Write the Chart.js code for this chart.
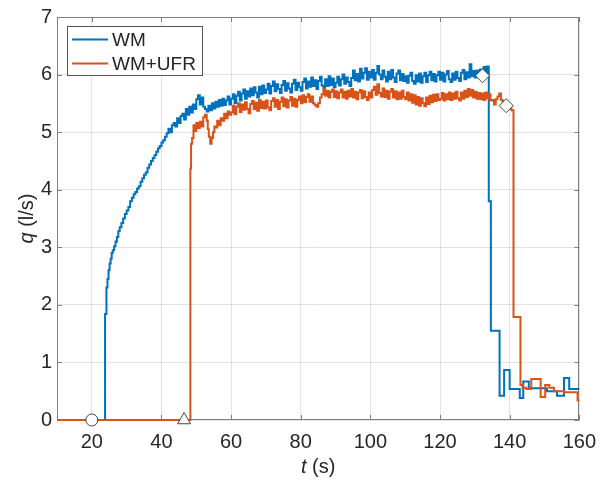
<!DOCTYPE html>
<html><head><meta charset="utf-8">
<script src="https://cdn.jsdelivr.net/npm/chart.js@4.4.1/dist/chart.umd.min.js"></script>
<style>html,body{margin:0;padding:0;background:#fff;}canvas{display:block;}</style>
</head><body>
<canvas id="c" width="606" height="484"></canvas>
<script>
const seriesNames = ['WM', 'WM+UFR'];
const xTicks = [20, 40, 60, 80, 100, 120, 140, 160];
const yTicks = [0, 1, 2, 3, 4, 5, 6, 7];
const xTitle = ['t', ' (s)'];
const yTitle = ['q', ' (l/s)'];

// WM samples [t (s), q (l/s)]
const wmSamples = [
[10,0],[23.8,1.84],[24.2,2.3],[24.5,2.45],[24.8,2.6],[25.1,2.72],[25.4,2.8],[25.7,2.9],[26,2.95],[26.4,3.02],[26.8,3.1],[27.2,3.18],[27.6,3.28],[28,3.35],
[28.5,3.42],[29,3.5],[29.5,3.58],[30,3.64],[30.5,3.7],[31,3.8],[31.5,3.86],[32,3.92],[32.5,3.96],[33,4.02],[33.5,4.06],[34,4.14],[34.5,4.2],[35,4.26],[35.5,4.3],
[36,4.38],[36.5,4.44],[37,4.5],[37.5,4.55],[38,4.6],[38.5,4.66],[39,4.72],[39.5,4.76],[40,4.82],[40.5,4.86],[41,4.92],[41.5,4.98],[42,5.06],[42.5,5.0],
[43,5.12],[43.5,5.16],[44,5.1],[44.5,5.24],[45,5.16],[45.5,5.28],[46,5.32],[46.5,5.22],[47,5.4],[47.5,5.3],[48,5.44],[48.5,5.34],[49,5.48],[49.5,5.4],
[50,5.57],[50.5,5.64],[51,5.48],[51.5,5.6],[52,5.44],[52.5,5.4],[53,5.36],[53.5,5.46],
[54,5.38],[54.5,5.50],[55,5.41],[55.5,5.53],[56,5.44],[56.5,5.56],[57,5.46],[57.5,5.58],[58,5.47],[58.5,5.55],[59,5.62],[59.5,5.48],
[60,5.58],[60.5,5.66],[61,5.50],[61.5,5.63],[62,5.70],[62.5,5.55],[63,5.67],[63.5,5.74],[64,5.58],[64.5,5.71],[65,5.62],[65.5,5.76],[66,5.64],[66.5,5.78],[67,5.69],[67.5,5.60],[68,5.79],[68.5,5.66],[69,5.81],[69.5,5.68],
[70,5.74],[70.5,5.84],[71,5.67],[71.5,5.80],[72,5.88],[72.5,5.71],[73,5.83],[73.5,5.75],[74,5.68],[74.5,5.82],[75,5.89],[75.5,5.72],[76,5.85],[76.5,5.76],[77,5.69],[77.5,5.84],[78,5.91],[78.5,5.73],[79,5.86],[79.5,5.78],
[80,5.72],[80.5,5.87],[81,5.93],[81.5,5.76],[82,5.88],[82.5,5.79],[83,5.95],[83.5,5.80],[84,5.90],[84.5,5.75],[85,5.89],[85.5,5.96],[86,5.81],[86.5,5.77],[87,5.92],[87.5,5.80],[88,5.97],[88.5,5.82],[89,5.93],[89.5,5.78],
[90,5.86],[90.5,5.96],[91,5.81],[91.5,5.92],[92,6.00],[92.5,5.84],[93,5.95],[93.5,5.87],[94,5.80],[94.5,5.94],[95,6.07],[95.5,5.90],[96,6.01],[96.5,5.88],[97,6.10],[97.5,5.93],[98,6.03],[98.5,6.11],[99,5.91],[99.5,6.05],
[100,5.95],[100.5,6.08],[101,5.91],[101.5,6.03],[102,6.15],[102.5,6.00],[103,5.92],[103.5,6.07],[104,5.96],[104.5,5.88],[105,6.05],[105.5,5.92],[106,6.08],[106.5,5.95],[107,5.87],[107.5,6.02],[108,6.07],[108.5,5.90],[109,6.01],[109.5,5.89],
[110,5.97],[110.5,5.86],[111,5.98],[111.5,6.03],[112,5.89],[112.5,5.84],[113,5.99],[113.5,5.88],[114,6.02],[114.5,5.86],[115,5.97],[115.5,6.03],[116,5.87],[116.5,5.99],[117,6.05],[117.5,5.90],[118,6.01],[118.5,5.88],[119,5.99],[119.5,6.05],
[120,5.91],[120.5,6.03],[121,5.88],[121.5,6.00],[122,6.06],[122.5,5.92],[123,5.87],[123.5,6.02],[124,5.91],[124.5,6.05],[125,5.94],[125.5,5.89],[126,6.03],[126.5,6.08],[127,5.92],[127.5,6.04],[128,5.95],[128.5,6.18],[129,5.97],[129.5,6.06],
[130,5.95],[130.5,6.07],[131,5.97],[131.5,6.09],[132,6.00],[132.5,6.13],[133,6.02],[133.5,6.14],
[134,3.8],[134.6,1.55],[137.1,0.42],[138.4,0.87],[140,0.54],[142.9,0.38],[143.9,0.67],[145.5,0.55],[150.7,0.5],[153.6,0.42],[155.6,0.73],[157.1,0.54],[160,0.54]
];

// WM+UFR samples [t (s), q (l/s)]
const ufrSamples = [
[10,0],[48.3,4.37],[48.5,4.8],[48.8,4.9],[49.2,5.12],[49.6,5.02],[50,5.16],[50.5,5.07],[51,5.18],[51.5,5.1],[52,5.26],[52.5,5.3],[53,5.2],[53.3,5.05],[53.6,4.92],
[54,4.8],[54.4,4.9],[54.8,5.0],[55.2,5.1],[55.6,5.08],[56,5.2],[56.5,5.12],[57,5.24],[57.5,5.2],[58,5.32],[58.5,5.24],[59,5.36],[59.5,5.3],
[60,5.34],[60.5,5.46],[61,5.31],[61.5,5.44],[62,5.50],[62.5,5.35],[63,5.48],[63.5,5.39],[64,5.52],[64.5,5.40],[65,5.33],[65.5,5.49],[66,5.54],[66.5,5.40],[67,5.51],[67.5,5.37],[68,5.56],[68.5,5.42],[69,5.53],[69.5,5.41],
[70,5.55],[70.5,5.43],[71,5.38],[71.5,5.54],[72,5.59],[72.5,5.44],[73,5.56],[73.5,5.40],[74,5.53],[74.5,5.60],[75,5.45],[75.5,5.57],[76,5.43],[76.5,5.55],[77,5.61],[77.5,5.46],[78,5.58],[78.5,5.44],[79,5.56],[79.5,5.62],
[80,5.50],[80.5,5.64],[81,5.52],[81.5,5.61],[82,5.66],[82.5,5.53],[83,5.62],[83.5,5.50],[84,5.47],[84.5,5.44],[85,5.50],[85.5,5.60],[86,5.66],[86.5,5.75],[87,5.63],[87.5,5.72],[88,5.60],[88.5,5.70],[89,5.74],[89.5,5.61],
[90,5.71],[90.5,5.59],[91,5.69],[91.5,5.74],[92,5.60],[92.5,5.70],[93,5.58],[93.5,5.72],[94,5.62],[94.5,5.75],[95,5.60],[95.5,5.70],[96,5.57],[96.5,5.69],[97,5.73],[97.5,5.59],[98,5.71],[98.5,5.61],[99,5.56],[99.5,5.69],
[100,5.60],[100.5,5.73],[101,5.79],[101.5,5.65],[102,5.83],[102.5,5.68],[103,5.62],[103.5,5.76],[104,5.61],[104.5,5.72],[105,5.58],[105.5,5.70],[106,5.75],[106.5,5.60],[107,5.71],[107.5,5.57],[108,5.69],[108.5,5.58],[109,5.72],[109.5,5.61],
[110,5.57],[110.5,5.69],[111,5.55],[111.5,5.66],[112,5.51],[112.5,5.64],[113,5.48],[113.5,5.61],[114,5.46],[114.5,5.59],[115,5.50],[115.5,5.45],[116,5.60],[116.5,5.49],[117,5.63],[117.5,5.52],[118,5.65],[118.5,5.54],[119,5.66],[119.5,5.56],
[120,5.58],[120.5,5.68],[121,5.55],[121.5,5.66],[122,5.57],[122.5,5.69],[123,5.56],[123.5,5.67],[124,5.58],[124.5,5.70],[125,5.59],[125.5,5.55],[126,5.69],[126.5,5.58],[127,5.72],[127.5,5.61],[128,5.75],[128.5,5.63],[129,5.73],[129.5,5.60],
[130,5.70],[130.5,5.58],[131,5.68],[131.5,5.57],[132,5.67],[132.5,5.56],[133,5.69],[133.5,5.59],[134,5.66],[134.5,5.55],
[135,5.56],[135.5,5.48],[136,5.57],[136.5,5.62],[137,5.67],[137.5,5.56],[138,5.53],[138.5,5.44],[139,5.50],[139.5,5.41],[140,5.46],[140.5,5.38],
[141.1,1.79],[143.1,0.61],[143.7,0.56],[144.8,0.54],[146.2,0.71],[148.9,0.40],[150.2,0.61],[151.4,0.56],[152.7,0.50],[155.7,0.48],[159.5,0.34],[160,0.34]
];

// event markers [t, q]
const startMarkers = [[20, 0]];
const ufrStartMarkers = [[46.5, 0]];
const stopMarkers = [[132.2, 5.98], [139.0, 5.46]];

const colors = ['#0072BD', '#D95319'];
const FONT = "'Liberation Sans', Arial, Helvetica, sans-serif";
const textColor = '#262626';
const frameColor = '#7f7f7f';

const toXY = a => a.map(p => ({x: p[0], y: p[1]}));

const markerDs = (pts, style, r) => ({
  type: 'line', data: toXY(pts), showLine: false, order: 0, clip: false,
  pointStyle: style, pointRadius: r, pointHoverRadius: r,
  pointBackgroundColor: '#ffffff', pointBorderColor: '#444444', pointBorderWidth: 1
});

const decor = {
  id: 'decor',
  beforeDatasetsDraw(chart) {
    const ctx = chart.ctx, a = chart.chartArea, xs = chart.scales.x, ys = chart.scales.y;
    ctx.save();
    ctx.strokeStyle = frameColor; ctx.lineWidth = 1;
    ctx.beginPath();
    xs.ticks.forEach(t => {
      const p = Math.round(xs.getPixelForValue(t.value)) + 0.5;
      ctx.moveTo(p, a.bottom); ctx.lineTo(p, a.bottom - 5);
      ctx.moveTo(p, a.top); ctx.lineTo(p, a.top + 5);
    });
    ys.ticks.forEach(t => {
      const p = Math.round(ys.getPixelForValue(t.value)) + 0.5;
      ctx.moveTo(a.left, p); ctx.lineTo(a.left + 5, p);
      ctx.moveTo(a.right, p); ctx.lineTo(a.right - 5, p);
    });
    ctx.stroke();
    ctx.strokeRect(Math.round(a.left) + 0.5, Math.round(a.top) + 0.5, Math.round(a.right - a.left) - 1, Math.round(a.bottom - a.top) - 1);
    ctx.restore();
  },
  afterDraw(chart) {
    const ctx = chart.ctx, a = chart.chartArea;
    ctx.save();
    ctx.fillStyle = textColor;
    ctx.textBaseline = 'middle';
    ctx.textAlign = 'left';
    const mixed = (parts, cx, cy) => {
      const fonts = ['italic 20px ' + FONT, '20px ' + FONT];
      let w = 0;
      parts.forEach((s, i) => { ctx.font = fonts[i]; w += ctx.measureText(s).width; });
      let x = cx - w / 2;
      parts.forEach((s, i) => { ctx.font = fonts[i]; ctx.fillText(s, x, cy); x += ctx.measureText(s).width; });
    };
    mixed(xTitle, (a.left + a.right) / 2, 467);
    ctx.save();
    ctx.translate(27, (a.top + a.bottom) / 2);
    ctx.rotate(-Math.PI / 2);
    mixed(yTitle, 0, 0);
    ctx.restore();

    // legend
    const lx = a.left + 10, ly = a.top + 9, lw = 136, lh = 50;
    ctx.fillStyle = '#ffffff';
    ctx.fillRect(lx, ly, lw, lh);
    ctx.strokeStyle = '#555555'; ctx.lineWidth = 1;
    ctx.strokeRect(lx + 0.5, ly + 0.5, lw - 1, lh - 1);
    seriesNames.forEach((name, i) => {
      const d = chart.data.datasets.find(ds => ds.legendName === name);
      const y = ly + 13.5 + i * 24;
      ctx.strokeStyle = d.borderColor; ctx.lineWidth = 2;
      ctx.beginPath(); ctx.moveTo(lx + 5, y); ctx.lineTo(lx + 41, y); ctx.stroke();
      ctx.fillStyle = textColor; ctx.font = '19px ' + FONT;
      ctx.fillText(name, lx + 45, y + 1);
    });
    ctx.restore();
  }
};

new Chart(document.getElementById('c'), {
  type: 'line',
  data: {
    datasets: [
      markerDs(startMarkers, 'circle', 6),
      markerDs(ufrStartMarkers, 'triangle', 7.5),
      markerDs(stopMarkers, 'rectRot', 7),
      { label: seriesNames[1], legendName: seriesNames[1], data: toXY(ufrSamples), borderColor: colors[1], backgroundColor: colors[1], borderWidth: 2, pointRadius: 0, stepped: 'before', order: 1, clip: false },
      { label: seriesNames[0], legendName: seriesNames[0], data: toXY(wmSamples), borderColor: colors[0], backgroundColor: colors[0], borderWidth: 2, pointRadius: 0, stepped: 'before', order: 2, clip: false }
    ]
  },
  options: {
    responsive: false, animation: false, devicePixelRatio: 1,
    layout: { padding: { left: 0, right: 24, top: 14, bottom: 0 } },
    plugins: { legend: { display: false }, tooltip: { enabled: false } },
    scales: {
      x: {
        type: 'linear', min: 10, max: 160,
        afterBuildTicks: s => { s.ticks = xTicks.map(v => ({ value: v })); },
        afterFit: s => { s.height = 64; },
        ticks: { color: textColor, font: { family: FONT, size: 20 }, padding: 10, maxRotation: 0, autoSkip: false },
        grid: { color: 'rgba(38,38,38,0.13)', drawTicks: false },
        border: { display: false }
      },
      y: {
        type: 'linear', min: 0, max: 7,
        afterBuildTicks: s => { s.ticks = yTicks.map(v => ({ value: v })); },
        afterFit: s => { s.width = 57; },
        ticks: { color: textColor, font: { family: FONT, size: 20 }, padding: 5, autoSkip: false },
        grid: { color: 'rgba(38,38,38,0.13)', drawTicks: false },
        border: { display: false }
      }
    }
  },
  plugins: [decor]
});
</script>
</body></html>
